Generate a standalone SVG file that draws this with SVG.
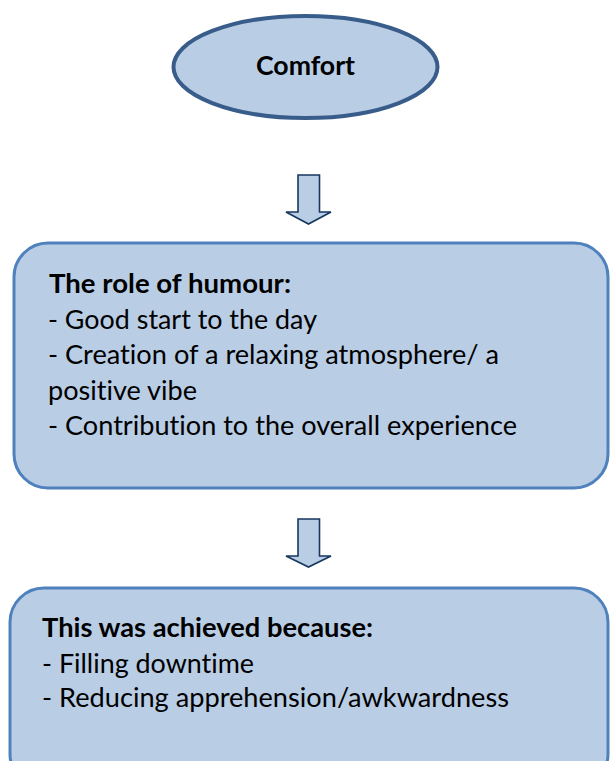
<svg xmlns="http://www.w3.org/2000/svg" width="610" height="761" viewBox="0 0 610 761">
  <style>
    .shape { fill: #b9cde5; }
    .oval { stroke: #385d8a; stroke-width: 4; }
    .box { stroke: #4f81bd; stroke-width: 3; }
    .arrow { fill: #b9cde5; stroke: #17375e; stroke-width: 1.6; stroke-linejoin: miter; }
    text { font-family: Lato, "Open Sans", "Liberation Sans", sans-serif; fill: #000; font-size: 26.5px; font-variant-ligatures: none; }
    .b { font-weight: bold; }
  </style>
  <rect width="610" height="761" fill="#ffffff"/>

  <!-- flow arrows between the stages -->
  <g id="connectors">
    <path class="arrow" d="M298,175 H319.5 V212 H331 L308.5,224 L286,212 H298 Z"/>
    <path class="arrow" d="M298,519 H319.5 V556 H331 L308.5,567 L286,556 H298 Z"/>
  </g>

  <g id="comfort">
    <ellipse class="shape oval" cx="305.5" cy="67" rx="132" ry="51"/>
    <text class="b" x="305.5" y="75" text-anchor="middle" textLength="99" lengthAdjust="spacingAndGlyphs">Comfort</text>
  </g>

  <g id="role-of-humour">
    <rect class="shape box" x="14" y="243" width="594" height="245" rx="34" ry="34"/>
    <text class="b" x="49" y="293" textLength="242" lengthAdjust="spacingAndGlyphs">The role of humour:</text>
    <text x="48" y="328.5" textLength="269" lengthAdjust="spacingAndGlyphs">- Good start to the day</text>
    <text x="48" y="364" textLength="451" lengthAdjust="spacingAndGlyphs">- Creation of a relaxing atmosphere/ a</text>
    <text x="48" y="399.5" textLength="149" lengthAdjust="spacingAndGlyphs">positive vibe</text>
    <text x="48" y="435" textLength="469" lengthAdjust="spacingAndGlyphs">- Contribution to the overall experience</text>
  </g>

  <g id="achieved-because">
    <rect class="shape box" x="10" y="588" width="598" height="200" rx="34" ry="34"/>
    <text class="b" x="42" y="637" textLength="331" lengthAdjust="spacingAndGlyphs">This was achieved because:</text>
    <text x="42" y="673" textLength="212" lengthAdjust="spacingAndGlyphs">- Filling downtime</text>
    <text x="42" y="707" textLength="467" lengthAdjust="spacingAndGlyphs">- Reducing apprehension/awkwardness</text>
  </g>
</svg>
